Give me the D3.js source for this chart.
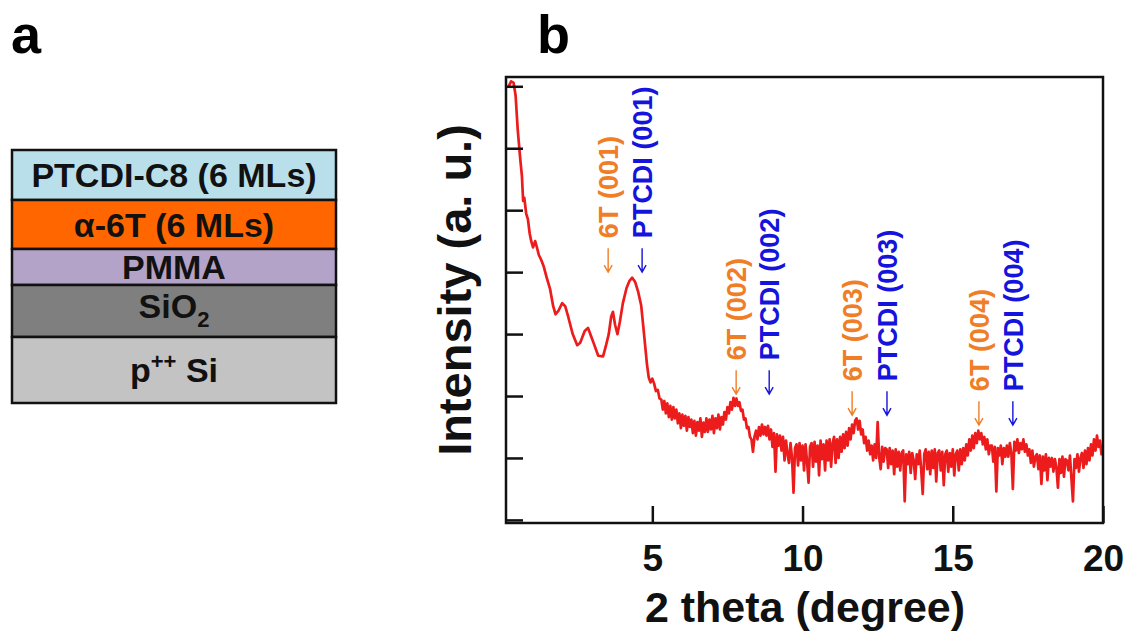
<!DOCTYPE html>
<html>
<head>
<meta charset="utf-8">
<script src="https://cdn.jsdelivr.net/npm/d3@7"></script>
<style>
  body { margin: 0; background: #fff; }
  text { font-family: "Liberation Sans", Arial, sans-serif; font-weight: bold; }
</style>
</head>
<body>
<svg id="chart" width="1128" height="635"></svg>
<script>
// Panel a - layer stack (top to bottom)
var layerNames = ['PTCDI-C8 (6 MLs)', 'α-6T (6 MLs)', 'PMMA', 'SiO2', 'p++ Si'];
var layerColors = ['#b9e0ea', '#ff6600', '#b3a3c9', '#7f7f7f', '#c3c3c3'];
var layerThickness = [50, 49, 36, 52, 66];

// Panel b - XRD scan, low angle part traced as [2theta, intensity]
var lowAngle = [
  [0.20, 6.98], [0.30, 7.08], [0.38, 7.06], [0.45, 6.85], [0.52, 6.30], [0.60, 5.85],
  [0.66, 5.55], [0.70, 5.15], [0.74, 5.20], [0.80, 4.95], [0.86, 4.85], [0.92, 4.62],
  [0.97, 4.50], [1.03, 4.40], [1.10, 4.50], [1.16, 4.40], [1.22, 4.28], [1.30, 4.20],
  [1.38, 4.10], [1.48, 3.92], [1.60, 3.72], [1.70, 3.45], [1.78, 3.32], [1.88, 3.38],
  [2.00, 3.50], [2.10, 3.45], [2.20, 3.28], [2.35, 3.00], [2.50, 2.82], [2.60, 2.86],
  [2.75, 3.05], [2.86, 3.10], [2.95, 2.98], [3.05, 2.85], [3.20, 2.65], [3.36, 2.64],
  [3.45, 2.80], [3.55, 3.00], [3.63, 3.28], [3.69, 3.36], [3.76, 3.15], [3.84, 3.00],
  [3.92, 3.20], [4.02, 3.50], [4.14, 3.74], [4.24, 3.86], [4.33, 3.91], [4.43, 3.84],
  [4.53, 3.68], [4.63, 3.46], [4.70, 3.12], [4.76, 2.82], [4.82, 2.52], [4.88, 2.30],
  [4.94, 2.22], [5.00, 2.28], [5.06, 2.20], [5.12, 2.08], [5.18, 2.10], [5.24, 1.96]
];

// high angle part, one reading every 0.05 deg starting at 5.30
var scanStart = 5.30;
var scanStep = 0.05;
var highAngle = [
  1.94, 1.78, 1.92, 1.72, 1.88, 1.66, 1.84, 1.62, 1.82, 1.64,
  1.78, 1.56, 1.72, 1.48, 1.70, 1.52, 1.68, 1.44, 1.66, 1.50,
  1.62, 1.40, 1.60, 1.36, 1.58, 1.44, 1.64, 1.34, 1.57, 1.42,
  1.64, 1.42, 1.62, 1.46, 1.68, 1.40, 1.64, 1.48, 1.70, 1.46,
  1.66, 1.54, 1.74, 1.62, 1.82, 1.72, 1.90, 1.78, 1.97, 1.84,
  1.96, 1.84, 1.90, 1.76, 1.78, 1.62, 1.64, 1.48, 1.50, 1.34,
  1.30, 1.10, 1.34, 1.44, 1.30, 1.50, 1.36, 1.54, 1.38, 1.50,
  1.36, 1.52, 1.30, 1.46, 1.18, 1.40, 0.78, 1.38, 1.20, 1.36,
  1.12, 1.34, 0.96, 1.28, 1.06, 0.92, 1.24, 1.00, 0.44, 1.16,
  1.22, 0.88, 1.24, 0.96, 1.20, 0.80, 1.22, 0.94, 0.60, 1.18,
  1.24, 0.86, 1.26, 0.94, 1.20, 0.72, 1.28, 0.98, 1.22, 0.80,
  1.28, 0.96, 1.30, 0.86, 1.24, 1.34, 0.92, 1.30, 1.00, 1.34,
  1.10, 1.38, 1.16, 1.42, 1.20, 1.48, 1.30, 1.54, 1.40, 1.60,
  1.64, 1.46, 1.60, 1.38, 1.46, 1.24, 1.34, 1.12, 1.28, 1.06,
  1.20, 0.96, 1.22, 1.00, 1.58, 1.02, 0.82, 1.18, 0.94, 1.16,
  1.14, 0.84, 1.16, 0.90, 1.12, 0.74, 1.14, 0.86, 1.10, 0.80,
  1.08, 1.12, 0.30, 1.06, 0.90, 1.10, 0.76, 1.08, 0.96, 0.66,
  1.06, 0.90, 1.12, 0.80, 0.42, 1.06, 1.14, 0.82, 1.10, 0.74,
  1.12, 0.84, 1.14, 0.62, 1.08, 1.12, 0.80, 1.10, 0.56, 1.06,
  1.12, 0.78, 1.08, 0.86, 1.14, 0.72, 1.06, 1.12, 0.80, 1.14,
  0.90, 1.16, 0.96, 1.22, 1.04, 1.30, 1.12, 1.36, 1.16, 1.40,
  1.24, 1.44, 1.30, 1.40, 1.22, 1.34, 1.14, 1.30, 1.06, 1.20,
  1.20, 0.94, 1.18, 0.46, 1.16, 1.04, 1.20, 0.90, 1.16, 1.02,
  1.20, 1.02, 1.24, 1.08, 0.50, 1.26, 1.12, 1.30, 1.08, 1.24,
  1.14, 1.30, 1.10, 1.22, 1.04, 1.14, 0.92, 1.12, 0.86, 1.02,
  1.06, 0.82, 1.04, 0.58, 1.02, 0.80, 1.06, 0.64, 1.00, 0.86,
  1.00, 0.78, 0.98, 0.84, 0.52, 0.98, 0.76, 1.02, 0.70, 0.98,
  0.96, 0.80, 1.04, 0.66, 0.30, 0.98, 0.84, 1.06, 0.78, 1.00,
  1.08, 0.84, 1.12, 0.90, 1.16, 0.96, 1.22, 1.04, 1.30, 1.12,
  1.36, 1.18, 1.28, 1.06, 1.10
];

// peak markers
var peakLabels = ['6T (001)', 'PTCDI (001)', '6T (002)', 'PTCDI (002)', '6T (003)', 'PTCDI (003)', '6T (004)', 'PTCDI (004)'];
var peakAngles = [3.53, 4.66, 7.79, 8.89, 11.65, 12.81, 15.87, 17.0];
var peakTips = [4.0, 4.0, 2.03, 2.03, 1.69, 1.69, 1.53, 1.53];
var peakKind = ['6T', 'PTCDI', '6T', 'PTCDI', '6T', 'PTCDI', '6T', 'PTCDI'];

var xTicks = [5, 10, 15, 20];
var yTicks = [0, 1, 2, 3, 4, 5, 6, 7];

var svg = d3.select('#chart');

// ---------- panel a ----------
svg.append('text').attr('x', 11).attr('y', 53).attr('font-size', 54).text('a');

var stackX = 12, stackW = 324, stackTop = 150;
var tops = [];
var acc = stackTop;
layerThickness.forEach(function(t) { tops.push(acc); acc += t; });

var layers = svg.selectAll('g.layer').data(layerNames).enter()
  .append('g').attr('class', 'layer');

layers.append('rect')
  .attr('x', stackX)
  .attr('y', function(d, i) { return tops[i]; })
  .attr('width', stackW)
  .attr('height', function(d, i) { return layerThickness[i]; })
  .attr('fill', function(d, i) { return layerColors[i]; })
  .attr('stroke', '#111')
  .attr('stroke-width', 2.5);

var labels = layers.append('text')
  .attr('x', stackX + stackW / 2)
  .attr('y', function(d, i) { return tops[i] + layerThickness[i] / 2 + 12; })
  .attr('text-anchor', 'middle')
  .attr('font-size', 34)
  .attr('fill', '#111');

labels.each(function(d) {
  var t = d3.select(this);
  if (d === 'SiO2') {
    t.append('tspan').attr('dy', -5).text('SiO');
    t.append('tspan').attr('font-size', 22).attr('dy', 9).text('2');
  } else if (d === 'p++ Si') {
    t.append('tspan').text('p');
    t.append('tspan').attr('font-size', 22).attr('dy', -13).text('++');
    t.append('tspan').attr('dy', 13).text(' Si');
  } else {
    t.text(d);
  }
});

// ---------- panel b ----------
svg.append('text').attr('x', 537).attr('y', 53).attr('font-size', 54).text('b');

var x = d3.scaleLinear().domain([0.13, 20]).range([506, 1103]);
var y = d3.scaleLinear().domain([-0.05, 7.15]).range([523, 77]);

var scan = lowAngle.slice();
highAngle.forEach(function(v, i) { scan.push([scanStart + i * scanStep, v]); });

svg.append('clipPath').attr('id', 'plot-clip')
  .append('rect').attr('x', 506).attr('y', 77).attr('width', 597).attr('height', 446);

var line = d3.line()
  .x(function(d) { return x(d[0]); })
  .y(function(d) { return y(d[1]); });

svg.append('path')
  .datum(scan)
  .attr('clip-path', 'url(#plot-clip)')
  .attr('fill', 'none')
  .attr('stroke', '#ec1c1c')
  .attr('stroke-width', 2.7)
  .attr('stroke-linejoin', 'round')
  .attr('d', line);

// inward ticks
var yAxis = svg.append('g').attr('transform', 'translate(506,0)')
  .call(d3.axisRight(y).tickValues(yTicks).tickSize(17).tickFormat(''));
yAxis.select('.domain').remove();
yAxis.selectAll('line').attr('stroke', '#111').attr('stroke-width', 2.5);

var xAxis = svg.append('g').attr('transform', 'translate(0,523)')
  .call(d3.axisBottom(x).tickValues(xTicks).tickSizeInner(-17).tickSizeOuter(0).tickPadding(22));
xAxis.select('.domain').remove();
xAxis.selectAll('line').attr('stroke', '#111').attr('stroke-width', 2.5);
xAxis.selectAll('text')
  .attr('font-size', 37)
  .attr('font-family', '"Liberation Sans", Arial, sans-serif')
  .attr('font-weight', 'bold')
  .attr('fill', '#111');

// frame
svg.append('rect')
  .attr('x', 506).attr('y', 77).attr('width', 597).attr('height', 446)
  .attr('fill', 'none').attr('stroke', '#111').attr('stroke-width', 2.5);

// axis titles
svg.append('text')
  .attr('x', 805).attr('y', 622)
  .attr('text-anchor', 'middle')
  .attr('font-size', 43)
  .attr('fill', '#111')
  .text('2 theta (degree)');

svg.append('text')
  .attr('transform', 'translate(471,290) rotate(-90)')
  .attr('text-anchor', 'middle')
  .attr('font-size', 47)
  .attr('fill', '#111')
  .text('Intensity (a. u.)');

// peak arrows + labels
var kindColor = { '6T': '#f07e26', 'PTCDI': '#1414dc' };
var arrowLen = 24;

var peaks = svg.selectAll('g.peak').data(peakLabels).enter()
  .append('g').attr('class', 'peak');

peaks.append('path')
  .attr('fill', 'none')
  .attr('stroke', function(d, i) { return kindColor[peakKind[i]]; })
  .attr('stroke-width', 1.4)
  .attr('d', function(d, i) {
    var px = x(peakAngles[i]), tip = y(peakTips[i]);
    return 'M' + px + ',' + (tip - arrowLen) + 'L' + px + ',' + tip +
      'M' + (px - 4) + ',' + (tip - 7) + 'L' + px + ',' + tip + 'L' + (px + 4) + ',' + (tip - 7);
  });

peaks.append('text')
  .attr('transform', function(d, i) {
    var px = x(peakAngles[i]) + 10, py = y(peakTips[i]) - arrowLen - 10;
    return 'translate(' + px + ',' + py + ') rotate(-90)';
  })
  .attr('font-size', 27)
  .attr('fill', function(d, i) { return kindColor[peakKind[i]]; })
  .text(function(d) { return d; });
</script>
</body>
</html>
